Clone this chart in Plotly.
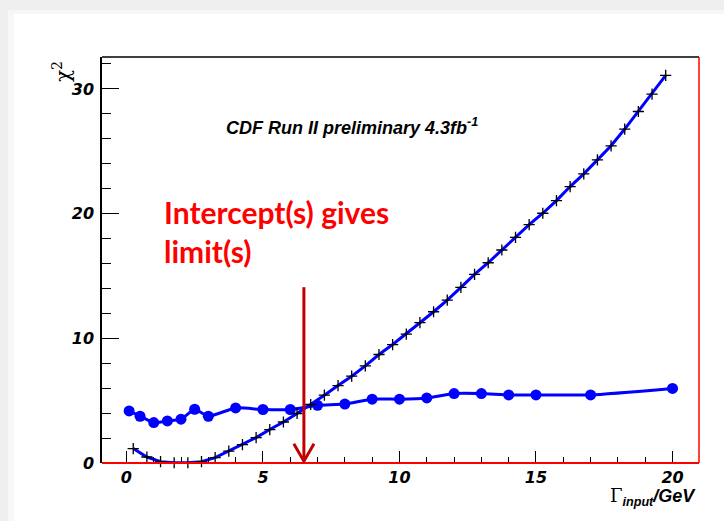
import plotly.graph_objects as go

# chi^2 scan versus input width (crosses)
gamma_scan = [0.25, 0.75, 1.25, 1.75, 2.25, 2.75, 3.25, 3.75, 4.25, 4.75,
              5.25, 5.75, 6.25, 6.75, 7.25, 7.75, 8.25, 8.75, 9.25, 9.75,
              10.25, 10.75, 11.25, 11.75, 12.25, 12.75, 13.25, 13.75, 14.25, 14.75,
              15.25, 15.75, 16.25, 16.75, 17.25, 17.75, 18.25, 18.75, 19.25, 19.75]
chi2_scan = [1.16, 0.48, 0.11, 0.02, 0.02, 0.11, 0.43, 0.96, 1.48, 2.04,
             2.68, 3.29, 3.97, 4.69, 5.44, 6.21, 6.96, 7.79, 8.70, 9.50,
             10.34, 11.25, 12.13, 13.07, 14.09, 15.13, 16.06, 17.08, 18.10, 19.12,
             20.03, 21.04, 22.17, 23.19, 24.31, 25.44, 26.78, 28.19, 29.59, 31.08]

# threshold curve (filled circles)
gamma_thr = [0.1, 0.5, 1, 1.5, 2, 2.5, 3, 4, 5, 6, 7, 8, 9, 10, 11, 12, 13, 14, 15, 17, 20]
chi2_thr = [4.18, 3.75, 3.24, 3.37, 3.51, 4.31, 3.75, 4.42, 4.29, 4.29, 4.63,
            4.73, 5.12, 5.12, 5.22, 5.57, 5.57, 5.46, 5.46, 5.46, 5.98]

# intercept marking the limit
limit_x = 6.5
arrow_top = 14.1
head_dx, head_dy = 0.37, 1.4

x_ticks = [0, 5, 10, 15, 20]
y_ticks = [0, 10, 20, 30]
x_range = [-0.894, 20.97]
y_range = [0, 32.56]

W, H = 724, 521
L, R, T, B = 102, 25, 57, 58
pw, ph = W - L - R, H - T - B


def px_to_paper_x(px):
    return (px - L) / pw


def px_to_paper_y(py):
    return (H - B - py) / ph


tick_font = dict(family="DejaVu Sans", size=16, color="black", weight="bold", style="italic")

fig = go.Figure()

fig.add_trace(go.Scatter(
    x=gamma_thr, y=chi2_thr, mode="lines+markers",
    line=dict(color="#0000ff", width=3, shape="spline", smoothing=0.5),
    marker=dict(symbol="circle", size=11, color="#0000ff"),
    showlegend=False, cliponaxis=False,
))
fig.add_trace(go.Scatter(
    x=gamma_scan, y=chi2_scan, mode="lines+markers",
    line=dict(color="#0000ff", width=3),
    marker=dict(symbol="cross-thin", size=8, line=dict(color="black", width=1.3)),
    showlegend=False, cliponaxis=False,
))

shapes = []
# slide background with a soft left/top shadow
shapes.append(dict(type="rect", xref="paper", yref="paper", layer="below",
                   x0=px_to_paper_x(0), x1=px_to_paper_x(W), y0=px_to_paper_y(0), y1=px_to_paper_y(H),
                   fillcolor="#efefef", line=dict(width=0)))
shapes.append(dict(type="rect", xref="paper", yref="paper", layer="below",
                   x0=px_to_paper_x(8), x1=px_to_paper_x(W), y0=px_to_paper_y(10), y1=px_to_paper_y(H),
                   fillcolor="#f7f7f7", line=dict(width=0)))
shapes.append(dict(type="rect", xref="paper", yref="paper", layer="below",
                   x0=px_to_paper_x(14), x1=px_to_paper_x(W), y0=px_to_paper_y(14), y1=px_to_paper_y(H),
                   fillcolor="white", line=dict(width=0)))
# frame: black top, red right and bottom
shapes.append(dict(type="line", xref="paper", yref="paper", x0=0, x1=1, y0=1, y1=1,
                   line=dict(color="black", width=1.5)))
shapes.append(dict(type="line", xref="paper", yref="paper", x0=1, x1=1, y0=0, y1=1,
                   line=dict(color="#ff0000", width=1.5)))
shapes.append(dict(type="line", xref="paper", yref="paper", x0=0, x1=1, y0=0, y1=0,
                   line=dict(color="#ff0000", width=2)))
# arrow at the intercept
arrow_col = "#c00000"
shapes.append(dict(type="line", xref="x", yref="y", x0=limit_x, x1=limit_x, y0=arrow_top, y1=0.15,
                   line=dict(color=arrow_col, width=3)))
shapes.append(dict(type="path", xref="x", yref="y",
                   path=f"M {limit_x - head_dx} {head_dy + 0.15} L {limit_x} 0.15 L {limit_x + head_dx} {head_dy + 0.15}",
                   line=dict(color=arrow_col, width=3)))

annotations = [
    dict(x=8.25, y=27.0, xref="x", yref="y", showarrow=False, xanchor="center", yanchor="middle",
         text="CDF Run II preliminary 4.3fb<sup>-1</sup>",
         font=dict(family="Liberation Sans", size=18, color="black", weight="bold", style="italic")),
    dict(x=1.3, y=21.75, xref="x", yref="y", showarrow=False, xanchor="left", yanchor="top", align="left",
         text="Intercept(s) gives<br>limit(s)",
         font=dict(family="Lato", size=30, color="#ff0000", weight="bold")),
    dict(x=px_to_paper_x(62), y=px_to_paper_y(72), xref="paper", yref="paper", showarrow=False,
         textangle=-90, xanchor="center", yanchor="middle",
         text="χ<sup>2</sup>", font=dict(family="DejaVu Serif", size=20, color="black")),
    dict(x=px_to_paper_x(698), y=px_to_paper_y(497), xref="paper", yref="paper", showarrow=False,
         xanchor="right", yanchor="middle",
         text="<span style='font-family:DejaVu Serif;font-weight:normal;font-style:normal'>Γ</span>"
              "<sub>input</sub>/GeV",
         font=dict(family="Liberation Sans", size=18, color="black", weight="bold", style="italic")),
]

fig.update_layout(
    width=W, height=H,
    margin=dict(l=L, r=R, t=T, b=B),
    paper_bgcolor="white", plot_bgcolor="white",
    shapes=shapes, annotations=annotations,
    xaxis=dict(range=x_range, tickvals=x_ticks, ticktext=[str(v) for v in x_ticks],
               ticks="inside", ticklen=12, tickwidth=1.3, tickcolor="black",
               minor=dict(ticks="inside", ticklen=6, dtick=1, tick0=0, tickcolor="black", tickwidth=1.3),
               showgrid=False, zeroline=False, showline=False,
               tickfont=tick_font, ticklabelstandoff=3),
    yaxis=dict(range=y_range, tickvals=y_ticks, ticktext=[str(v) for v in y_ticks],
               ticks="inside", ticklen=17, tickwidth=1.3, tickcolor="black",
               minor=dict(ticks="inside", ticklen=9, dtick=2, tick0=0, tickcolor="black", tickwidth=1.3),
               showgrid=False, zeroline=False, showline=True, linecolor="black", linewidth=1.5,
               tickfont=tick_font, ticklabelstandoff=3),
)

fig.write_html("out.html")
